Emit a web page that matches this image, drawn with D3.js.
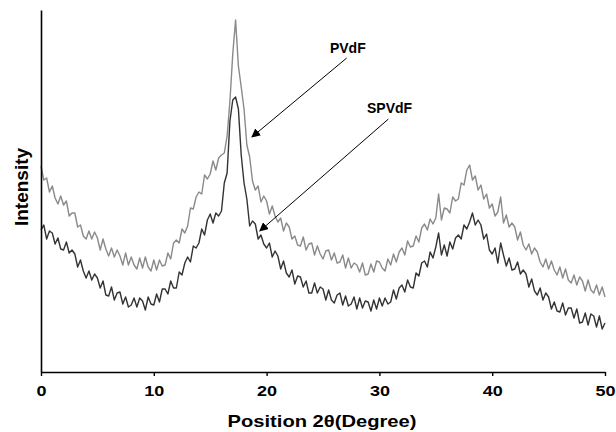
<!DOCTYPE html>
<html>
<head>
<meta charset="utf-8">
<script src="https://cdn.jsdelivr.net/npm/d3@7"></script>
<style>
  body { margin: 0; background: #fff; }
  svg { display: block; font-family: Arial, "Liberation Sans", sans-serif; }
</style>
</head>
<body>
<div id="chart"></div>
<script>
// XRD patterns, intensity every 0.25 degree (arbitrary units)
const step = 0.25;

const pvdf = [
  206, 192, 194, 180, 186, 174, 168, 176, 167, 171, 156, 159, 159, 145, 147, 136,
  133, 141, 133, 140, 134, 122, 133, 123, 116, 124, 115, 122, 116, 107, 119, 107,
  115, 107, 103, 114, 104, 115, 105, 101, 112, 102, 112, 106, 107, 119, 113, 129,
  132, 129, 143, 139, 146, 164, 163, 175, 180, 178, 197, 193, 198, 211, 202, 214,
  217, 219, 236, 271, 318, 352, 306, 285, 263, 227, 215, 191, 182, 186, 170, 176,
  171, 158, 166, 156, 150, 154, 141, 149, 145, 133, 136, 127, 126, 135, 122, 128,
  129, 117, 126, 118, 113, 121, 122, 112, 119, 109, 110, 117, 104, 114, 104, 109,
  107, 100, 109, 97, 98, 108, 100, 111, 110, 104, 101, 113, 107, 118, 110, 120,
  124, 117, 131, 125, 126, 136, 130, 144, 148, 142, 153, 148, 154, 178, 152, 164,
  163, 159, 175, 171, 173, 189, 187, 202, 207, 192, 196, 182, 187, 173, 178, 164,
  168, 156, 160, 175, 149, 157, 145, 149, 145, 132, 140, 127, 122, 128, 118, 124,
  120, 110, 105, 113, 103, 111, 102, 97, 105, 94, 103, 92, 89, 97, 87, 95,
  91, 81, 92, 82, 79, 87, 77, 85, 75
];

const spvdf = [
  142, 147, 133, 141, 139, 128, 134, 123, 122, 130, 119, 122, 118, 105, 112, 101,
  94, 101, 92, 98, 94, 84, 91, 77, 76, 85, 72, 79, 80, 68, 75, 65,
  67, 74, 65, 74, 71, 62, 75, 68, 67, 78, 70, 83, 83, 78, 91, 84,
  84, 100, 97, 109, 115, 110, 126, 124, 129, 143, 137, 152, 158, 149, 159, 156,
  161, 189, 199, 251, 272, 275, 263, 217, 189, 173, 146, 151, 148, 133, 137, 128,
  124, 129, 115, 121, 116, 103, 111, 99, 95, 102, 88, 96, 95, 85, 91, 79,
  79, 89, 79, 85, 83, 72, 82, 72, 69, 77, 79, 67, 76, 66, 68, 75,
  63, 74, 64, 71, 70, 61, 72, 63, 74, 66, 74, 68, 70, 82, 73, 84,
  87, 80, 92, 85, 84, 99, 96, 109, 111, 105, 120, 114, 125, 139, 117, 127,
  116, 130, 123, 134, 137, 133, 147, 143, 150, 159, 147, 152, 147, 133, 138, 122,
  118, 124, 109, 129, 117, 106, 114, 102, 103, 110, 98, 102, 98, 85, 93, 81,
  77, 84, 72, 79, 75, 63, 70, 61, 60, 69, 57, 64, 64, 54, 63, 49,
  50, 59, 47, 58, 56, 45, 56, 43, 49
];

const xTicks = [0, 10, 20, 30, 40, 50];

// labels with arrows, in data units: [2theta, intensity]
const notes = [
  { name: "PVdF",  text: [27.2, 319], from: [27.1, 314], to: [18.7, 235] },
  { name: "SPVdF", text: [30.9, 259], from: [30.8, 253], to: [19.4, 141] }
];

const width = 616, height = 432;

const svg = d3.select("#chart")
  .append("svg")
  .attr("width", width)
  .attr("height", height);

const x = d3.scaleLinear().domain([0, 50]).range([41, 605]);
const y = d3.scaleLinear().domain([0, 362]).range([372, 10]);

const line = d3.line()
  .x((d, i) => x(i * step))
  .y(d => y(d));

svg.append("path")
  .datum(pvdf)
  .attr("fill", "none")
  .attr("stroke", "#8a8a8a")
  .attr("stroke-width", 1.4)
  .attr("stroke-linejoin", "round")
  .attr("d", line);

svg.append("path")
  .datum(spvdf)
  .attr("fill", "none")
  .attr("stroke", "#333")
  .attr("stroke-width", 1.4)
  .attr("stroke-linejoin", "round")
  .attr("d", line);

// x axis
const xAxis = svg.append("g")
  .attr("transform", `translate(0, ${y(0)})`)
  .call(d3.axisBottom(x).tickValues(xTicks).tickSize(4).tickSizeOuter(0).tickPadding(9));
xAxis.select(".domain").attr("stroke", "#000").attr("stroke-width", 1.6);
xAxis.selectAll(".tick line").attr("stroke", "#000").attr("stroke-width", 1.4);
xAxis.selectAll(".tick text")
  .attr("fill", "#000")
  .attr("transform", "scale(1.2,1)")
  .style("font-size", "15px")
  .style("font-weight", "bold")
  .style("font-family", "Arial, 'Liberation Sans', sans-serif");

// y axis, line only
const yAxis = svg.append("g")
  .attr("transform", `translate(${x(0)}, 0)`)
  .call(d3.axisLeft(y).tickValues([]).tickSizeOuter(0));
yAxis.select(".domain").attr("stroke", "#000").attr("stroke-width", 1.6);

// axis titles
svg.append("text")
  .attr("x", 322)
  .attr("y", 427)
  .attr("text-anchor", "middle")
  .attr("textLength", 189)
  .attr("lengthAdjust", "spacingAndGlyphs")
  .style("font-size", "17px")
  .style("font-weight", "bold")
  .text("Position 2θ(Degree)");

svg.append("text")
  .attr("transform", `translate(28, 187) rotate(-90)`)
  .attr("text-anchor", "middle")
  .style("font-size", "19px")
  .style("font-weight", "bold")
  .text("Intensity");

// arrow annotations
svg.append("defs").append("marker")
  .attr("id", "head")
  .attr("viewBox", "0 0 10 10")
  .attr("refX", 9)
  .attr("refY", 5)
  .attr("markerWidth", 9)
  .attr("markerHeight", 9)
  .attr("markerUnits", "userSpaceOnUse")
  .attr("orient", "auto")
  .append("path")
  .attr("d", "M0,0L10,5L0,10z")
  .attr("fill", "#000");

svg.selectAll(".note-line")
  .data(notes)
  .join("line")
  .attr("class", "note-line")
  .attr("x1", d => x(d.from[0]))
  .attr("y1", d => y(d.from[1]))
  .attr("x2", d => x(d.to[0]))
  .attr("y2", d => y(d.to[1]))
  .attr("stroke", "#000")
  .attr("stroke-width", 1)
  .attr("marker-end", "url(#head)");

svg.selectAll(".note-text")
  .data(notes)
  .join("text")
  .attr("class", "note-text")
  .attr("x", d => x(d.text[0]))
  .attr("y", d => y(d.text[1]))
  .attr("text-anchor", "middle")
  .style("font-size", "14px")
  .style("font-weight", "bold")
  .text(d => d.name);
</script>
</body>
</html>
